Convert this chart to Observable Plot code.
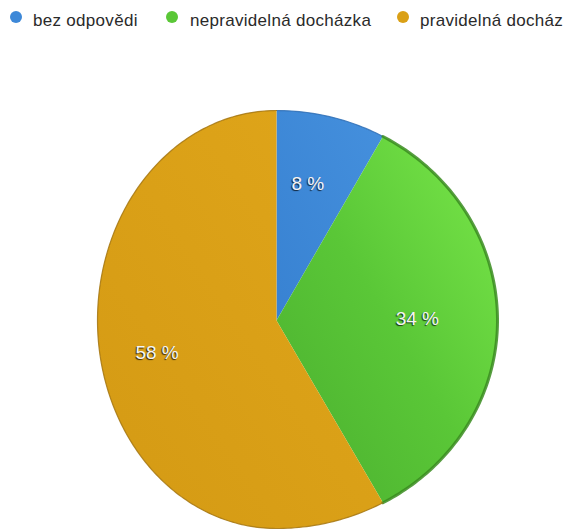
<!DOCTYPE html>
<html>
<head>
<meta charset="utf-8">
<script src="https://cdn.jsdelivr.net/npm/d3@7"></script>
<script src="https://cdn.jsdelivr.net/npm/@observablehq/plot@0.6"></script>
<style>
  html, body { margin: 0; padding: 0; background: #fff; width: 563px; height: 529px; overflow: hidden; }
  #legend { position: relative; height: 34px; width: 563px; overflow: hidden; white-space: nowrap;
    font-family: "Liberation Sans", Arial, Helvetica, sans-serif; font-size: 17px; letter-spacing: 0.3px; color: #2a2a2a; }
  .dot { position: absolute; top: 11px; width: 12px; height: 12px; border-radius: 50%; }
  .lbl { position: absolute; top: 12px; line-height: 1; }
  #chart svg text { text-shadow: -1px 1px 1px rgba(0,0,0,0.75); }
</style>
</head>
<body>
<div id="legend"></div>
<div id="chart"></div>
<script>
// ---- data ----
const categories = ["bez odpovědi", "nepravidelná docházka", "pravidelná docházka"];
const values = [8, 34, 58];
const valueLabels = ["8 %", "34 %", "58 %"];
const colors = ["#3d88d8", "#5ac737", "#daa016"];
const rimColors = ["#2f6fb5", "#3a8c20", "#a47510"];

// ---- legend ----
const legendDotLefts = [10, 166, 397];
const legendTextLefts = [33, 190, 420];
const legend = document.getElementById("legend");
categories.forEach((c, i) => {
  const dot = document.createElement("span");
  dot.className = "dot";
  dot.style.left = legendDotLefts[i] + "px";
  dot.style.background = colors[i];
  legend.appendChild(dot);
  const t = document.createElement("span");
  t.className = "lbl";
  t.style.left = legendTextLefts[i] + "px";
  t.textContent = c;
  legend.appendChild(t);
});

// ---- pie geometry from the values (angles clockwise from 12 o'clock) ----
const total = d3.sum(values);
const slices = [];
let acc = 0;
values.forEach((v, i) => {
  const a0 = acc / total * 360, a1 = (acc + v) / total * 360;
  slices.push({i, cat: categories[i], a0, a1, mid: (a0 + a1) / 2});
  acc += v;
});
const rad = a => a * Math.PI / 180;
const wedgePts = [], rimPts = [];
slices.forEach(s => {
  wedgePts.push({cat: s.cat, x: 0, y: 0});
  const n = Math.max(2, Math.ceil(s.a1 - s.a0));
  for (let k = 0; k <= n; k++) {
    const a = s.a0 + (s.a1 - s.a0) * k / n;
    const p = {cat: s.cat, x: Math.sin(rad(a)), y: Math.cos(rad(a))};
    wedgePts.push(p);
    rimPts.push({...p});
  }
  wedgePts.push({cat: s.cat, x: 0, y: 0});
});
const labelR = 0.66;
const labelPts = slices.map(s => ({x: labelR * Math.sin(rad(s.mid)), y: labelR * Math.cos(rad(s.mid)), text: valueLabels[s.i]}));

const gradIds = ["gBlue", "gGreen", "gGold"];
const rimW = [1.2, 3, 1.2];

const marks = [];
categories.forEach((c, i) => {
  marks.push(Plot.line(wedgePts.filter(d => d.cat === c), {x: "x", y: "y", fill: `url(#${gradIds[i]})`, stroke: "none", curve: "linear"}));
});
categories.forEach((c, i) => {
  marks.push(Plot.line(rimPts.filter(d => d.cat === c), {x: "x", y: "y", stroke: rimColors[i], strokeWidth: rimW[i], strokeOpacity: 0.85}));
});
marks.push(Plot.text(labelPts, {x: "x", y: "y", text: "text", fill: "#f4f4f4", fontSize: 19, dx: -5, dy: -2,
  fontFamily: "'Liberation Sans', Arial, Helvetica, sans-serif"}));

const plot = Plot.plot({
  width: 563,
  height: 495,
  margin: 0,
  x: {type: "linear", domain: [-1, 0, 1], range: [97, 276, 497], axis: null},
  y: {type: "linear", domain: [-1, 0, 1], range: [494, 286, 76], axis: null},
  style: {background: "transparent", overflow: "visible"},
  marks
});

const defs = document.createElementNS("http://www.w3.org/2000/svg", "defs");
defs.innerHTML = `
  <linearGradient id="gBlue" x1="1" y1="0" x2="0" y2="1">
    <stop offset="0" stop-color="#4590dd"/><stop offset="1" stop-color="#3882d2"/></linearGradient>
  <linearGradient id="gGreen" x1="1" y1="0" x2="0" y2="1">
    <stop offset="0" stop-color="#7ae84a"/><stop offset="0.5" stop-color="#5ac737"/><stop offset="1" stop-color="#4aae2f"/></linearGradient>
  <linearGradient id="gGold" x1="1" y1="0" x2="0" y2="1">
    <stop offset="0" stop-color="#e0a61a"/><stop offset="1" stop-color="#d49a14"/></linearGradient>`;
plot.insertBefore(defs, plot.firstChild);
document.getElementById("chart").appendChild(plot);
</script>
</body>
</html>
